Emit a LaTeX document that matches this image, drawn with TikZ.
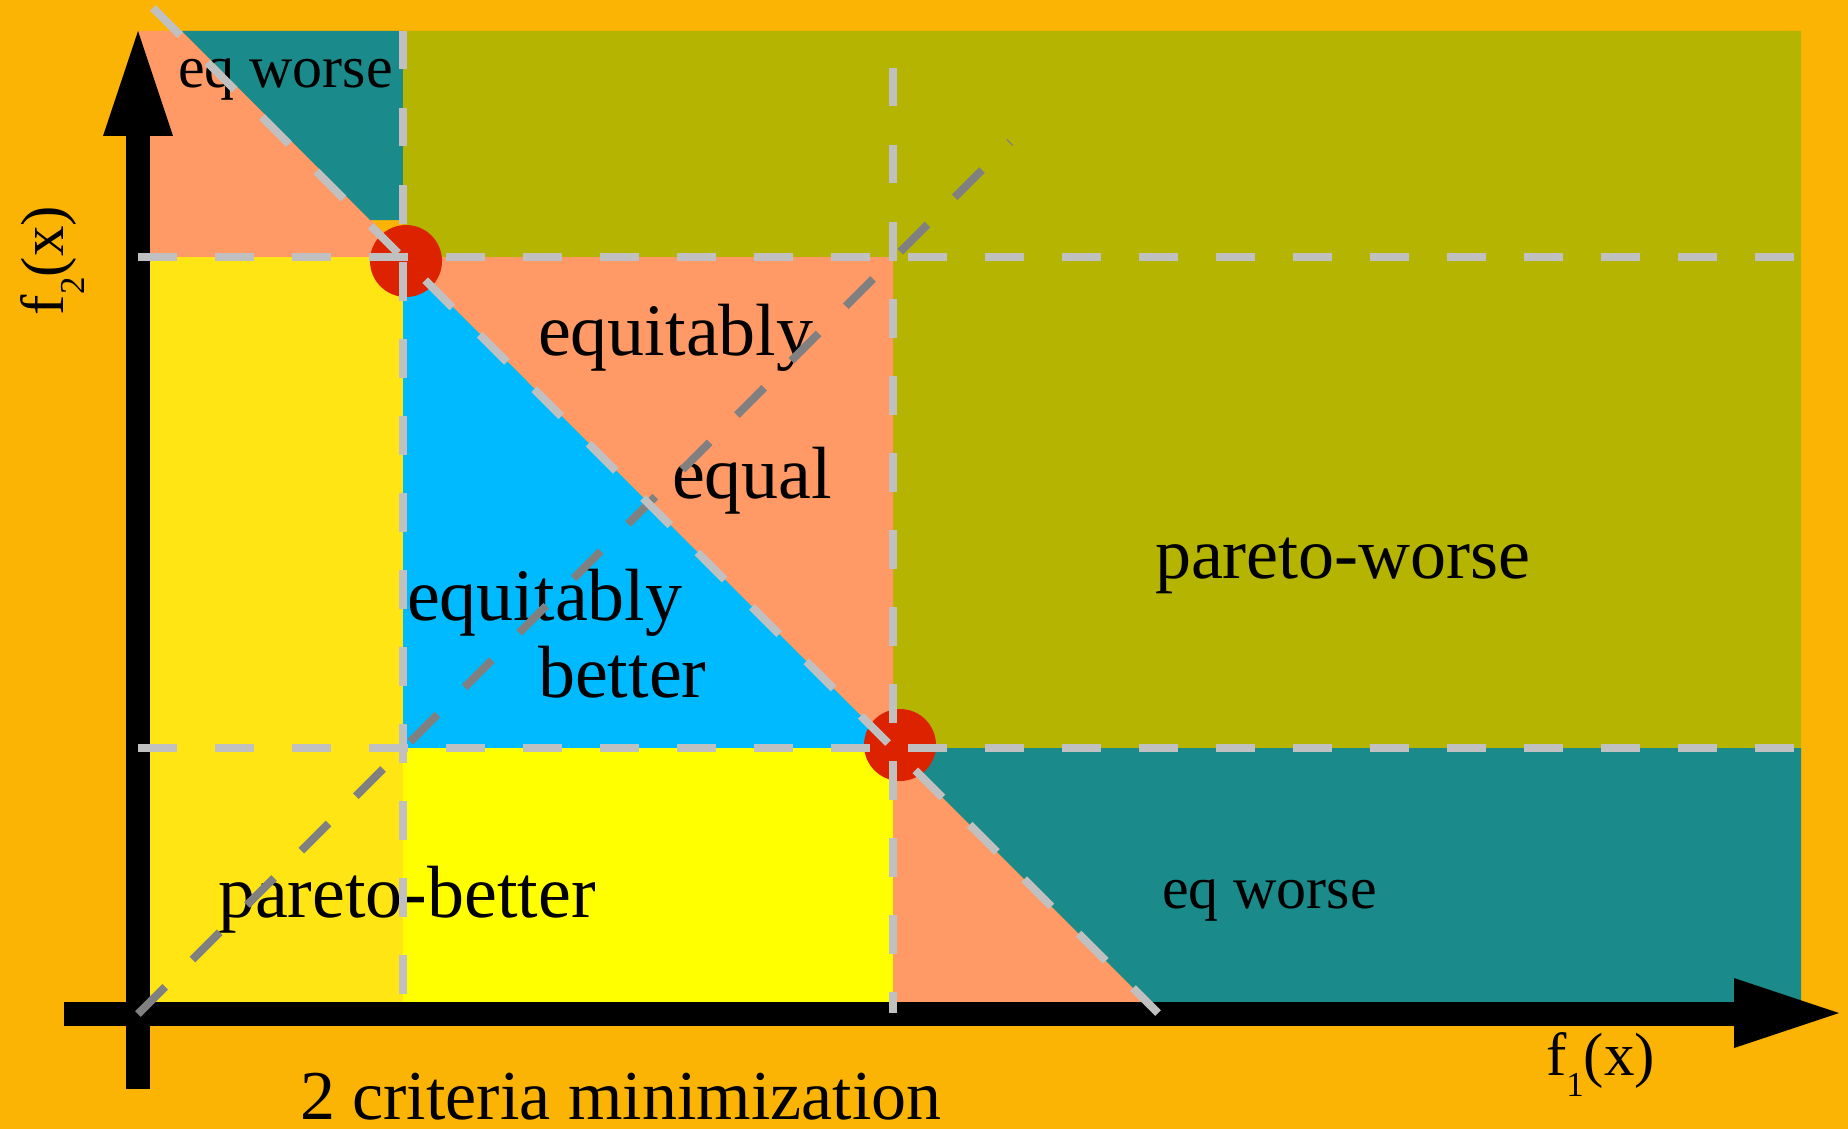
\documentclass[tikz,border=0pt]{standalone}
\usepackage{fontspec}
\setmainfont{Liberation Serif}
\definecolor{bgor}{HTML}{FBB304}
\definecolor{salmon}{HTML}{FF9966}
\definecolor{tealc}{HTML}{1A8A8A}
\definecolor{olive}{HTML}{B5B400}
\definecolor{ylight}{HTML}{FFE514}
\definecolor{ybright}{HTML}{FFFF00}
\definecolor{bluec}{HTML}{00BAFF}
\definecolor{redc}{HTML}{DD2200}
\definecolor{lgray}{HTML}{C0C0C0}
\definecolor{dgray}{HTML}{808080}
\tikzset{
  lab/.style={anchor=base west, inner sep=0pt, outer sep=0pt, font=\fontsize{74}{80}\selectfont},
  smalllab/.style={lab, font=\fontsize{60}{66}\selectfont},
  axlab/.style={lab, font=\fontsize{61}{66}\selectfont},
  gline/.style={draw=lgray, line width=8pt, dash pattern=on 38.5pt off 38.5pt},
  dline/.style={draw=dgray, line width=8pt, dash pattern=on 38.5pt off 38.5pt},
  dot/.style={circle, fill=redc, minimum size=72pt, inner sep=0pt},
}
\begin{document}
\begin{tikzpicture}[x=1pt,y=-1pt]
\useasboundingbox (0,0) rectangle (1848,1129);
\fill[bgor] (0,0) rectangle (1848,1129);
% regions
\fill[salmon] (138,31) -- (182,31) -- (408,257) -- (138,257) -- cycle;
\fill[tealc] (182,31) -- (403,31) -- (403,220) -- (370,220) -- cycle;
\fill[olive] (403,31) -- (1801,31) -- (1801,748) -- (893,748) -- (893,257) -- (403,257) -- cycle;
\fill[ylight] (138,257) rectangle (403,1014);
\fill[salmon] (403,257) -- (893,257) -- (893,748) -- cycle;
\fill[bluec] (403,257) -- (403,748) -- (893,748) -- cycle;
\fill[ybright] (403,748) rectangle (893,1014);
\fill[salmon] (893,748) -- (893,1014) -- (1159,1014) -- cycle;
\fill[tealc] (893,748) -- (1801,748) -- (1801,1014) -- (1159,1014) -- cycle;
% axes
\fill[black] (126,136) rectangle (150,1089);
\fill[black] (103,136) -- (173,136) -- (138,31) -- cycle;
\fill[black] (64,1002) rectangle (1734,1026);
\fill[black] (1734,978) -- (1734,1048) -- (1839,1013) -- cycle;
% points
\node[dot] (p1) at (406,261) {};
\node[dot] (p2) at (900,745) {};
% labels
\node[smalllab] (eqw1) at (178,88) {eq worse};
\node[lab] (eqa) at (538,355) {equitably};
\node[lab] (eql) at (672,498) {equal};
\node[lab] (eqb1) at (407,620) {equitably};
\node[lab] (eqb2) at (538,697) {better};
\node[lab, font=\fontsize{72}{78}\selectfont] (pw) at (1155,578) {pareto-worse};
\node[lab] (pb) at (218,917) {pareto-better};
\node[smalllab] (eqw2) at (1162,908) {eq worse};
\node[lab, font=\fontsize{70}{76}\selectfont] (title) at (300,1119) {2 criteria minimization};
\node[axlab] (f1) at (1546,1075) {f\raisebox{-0.36em}{\fontsize{35}{35}\selectfont 1}(x)};
\node[axlab, rotate=90] (f2) at (63,315) {f\raisebox{-0.36em}{\fontsize{35}{35}\selectfont 2}(x)};
% dashed lines
\coordinate (o) at (138,1014);
\coordinate (de) at (1010,142);
\draw[dline] (o) -- (de);
\coordinate (h1a) at (138,257); \coordinate (h1b) at (1801,257);
\coordinate (h2a) at (138,748); \coordinate (h2b) at (1801,748);
\coordinate (v1a) at (403,31);  \coordinate (v1b) at (403,1013);
\coordinate (v2a) at (893,68);  \coordinate (v2b) at (893,1013);
\coordinate (ga) at (153,8);    \coordinate (gb) at (1158,1013);
\draw[gline] (h1a) -- (h1b);
\draw[gline] (h2a) -- (h2b);
\draw[gline] (v1a) -- (v1b);
\draw[gline] (v2a) -- (v2b);
\draw[gline] (ga) -- (gb);
\end{tikzpicture}
\end{document}
